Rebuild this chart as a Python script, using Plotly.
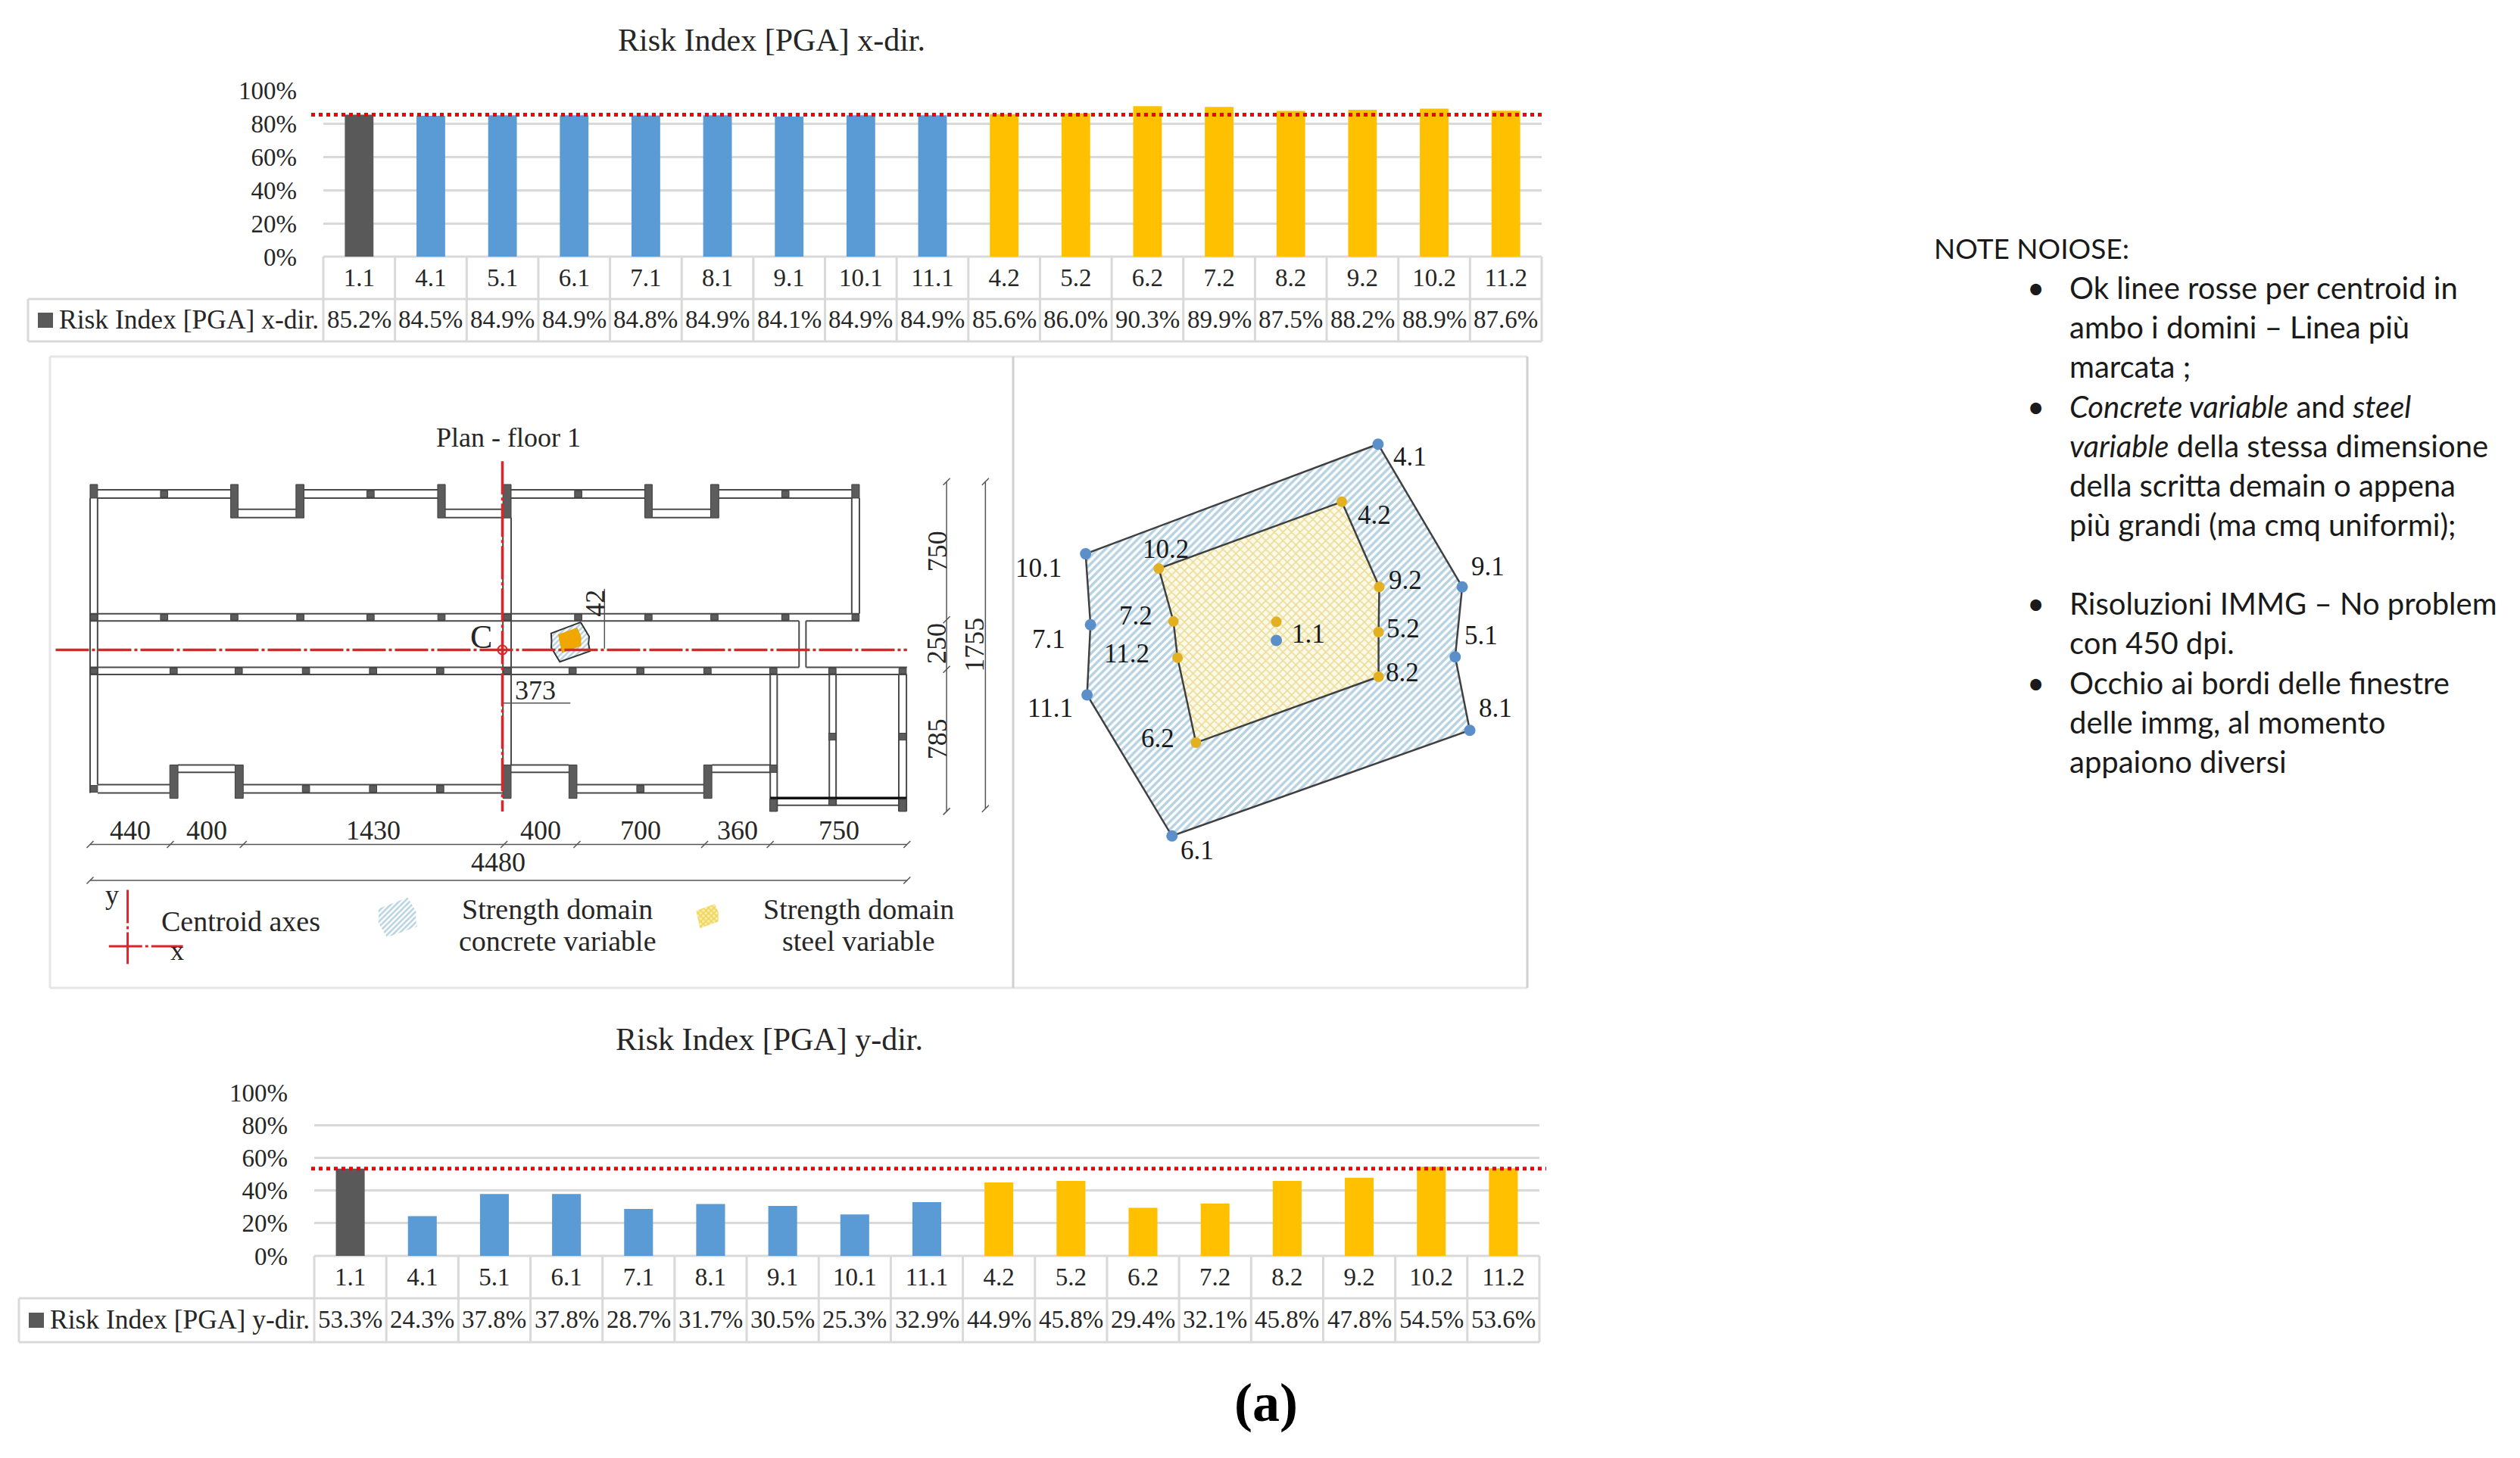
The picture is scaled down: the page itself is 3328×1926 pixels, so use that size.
import plotly.graph_objects as go

W, H = 3328, 1926
def px(v): return v / W
def py(v): return 1 - v / H

SERIF = "Liberation Serif"
SANS = "Lato"
DARK = "#262626"
GRID = "#d9d9d9"
GREY, BLUE, GOLD = "#595959", "#5B9BD5", "#FFC000"
RED = "#F0000F"
AXIS_RED = "#D9252B"
AXIS_DASH = "44px,4px,4px,4px"

# ---------- bar chart data ----------
categories = ["1.1", "4.1", "5.1", "6.1", "7.1", "8.1", "9.1", "10.1", "11.1",
              "4.2", "5.2", "6.2", "7.2", "8.2", "9.2", "10.2", "11.2"]
risk_x = [85.2, 84.5, 84.9, 84.9, 84.8, 84.9, 84.1, 84.9, 84.9,
          85.6, 86.0, 90.3, 89.9, 87.5, 88.2, 88.9, 87.6]
risk_y = [53.3, 24.3, 37.8, 37.8, 28.7, 31.7, 30.5, 25.3, 32.9,
          44.9, 45.8, 29.4, 32.1, 45.8, 47.8, 54.5, 53.6]
bar_colors = [GREY] + [BLUE] * 8 + [GOLD] * 8
y_ticks = [0, 20, 40, 60, 80, 100]

# ---------- strength domains (cm, relative to point 1.1) ----------
concrete_names = ["4.1", "9.1", "5.1", "8.1", "6.1", "11.1", "7.1", "10.1"]
concrete_dx = [56.4, 103.1, 99.2, 107.3, -57.9, -105.0, -103.1, -105.8]
concrete_dy = [106.3, 29.0, -8.9, -48.7, -105.9, -29.5, 8.5, 46.9]
concrete_lx = [42, 34, 34, 34, 33, -49, -55, -62]
concrete_ly = [-17, 27, 28, 29, -19, -18, -19, -19]
steel_names = ["4.2", "9.2", "5.2", "8.2", "6.2", "11.2", "7.2", "10.2"]
steel_dx = [36.3, 57.1, 56.7, 56.7, -44.6, -54.8, -57.1, -65.2]
steel_dy = [75.1, 29.0, 4.5, -19.7, -55.4, -9.4, 10.3, 38.9]
steel_lx = [43, 34, 32, 31, -50, -67, -50, 9]
steel_ly = [-18, 9, 5, 6, 6, 5, 7, 26]
centre_concrete = (0.0, 0.0)
centre_steel = (0.0, 10.1)

# ---------- plan (cm) : (x0, t0, x1, t1), t measured downwards from the north wall ----------
wall_h = []
for t in (33, 77):
    wall_h += [(41, t, 771, t), (1173, t, 1906, t), (2309, t, 3042, t), (3448, t, 4177, t)]
for t in (137, 181):
    wall_h += [(812, t, 1129, t), (1948, t, 2264, t), (3083, t, 3403, t)]
wall_h += [(0, 696, 4219, 696), (0, 735, 3888, 735), (3926, 735, 4219, 735),
           (0, 983, 3888, 983), (3926, 983, 4480, 983), (0, 1022, 4480, 1022)]
for t in (1612, 1656):
    wall_h += [(41, t, 437, t), (840, t, 2264, t), (2670, t, 3365, t)]
for t in (1506, 1546):
    wall_h += [(482, t, 795, t), (2309, t, 2626, t), (3410, t, 3730, t)]
wall_h += [(3730, 1722, 4477, 1722)]
wall_v = [(0, 77, 0, 1656), (41, 77, 41, 1612), (4177, 77, 4177, 696), (4219, 77, 4219, 696),
          (2264, 181, 2264, 1506), (2309, 181, 2309, 1506),
          (3888, 735, 3888, 983), (3926, 735, 3926, 983),
          (3730, 1022, 3730, 1755), (3768, 1022, 3768, 1755),
          (4054, 1022, 4054, 1722), (4091, 1022, 4091, 1722),
          (4435, 1022, 4435, 1755), (4477, 1022, 4477, 1755)]
wall_black = [(3730, 1683, 4477, 1683)]

piers = [(0, 41, 4, 77), (771, 812, 4, 183), (1129, 1173, 4, 183), (1906, 1948, 4, 183),
         (2264, 2309, 4, 183), (3042, 3083, 4, 183), (3403, 3448, 4, 183), (4177, 4219, 4, 77),
         (437, 482, 1506, 1685), (795, 840, 1506, 1685), (2264, 2309, 1506, 1685),
         (2626, 2670, 1506, 1685), (3365, 3410, 1506, 1685),
         (3727, 3767, 1506, 1546), (3727, 3767, 1690, 1755), (4051, 4091, 1336, 1373),
         (4051, 4091, 1690, 1722), (4436, 4476, 1336, 1373), (4436, 4476, 1690, 1755)]
cols_top = [406, 1538, 2677, 3813]
cols_upper = [21, 406, 791, 1153, 1538, 1927, 2288, 2677, 3062, 3424, 3813, 4198]
cols_lower = [21, 458, 815, 1184, 1552, 1920, 2288, 2646, 3018, 3386, 3747, 4071, 4456]
cols_bottom = [21, 1184, 1552, 1920, 3018]

dim_x_breaks = [0, 440, 840, 2270, 2670, 3370, 3730, 4480]
dim_x_labels = ["440", "400", "1430", "400", "700", "360", "750"]
dim_y_breaks = [-11, 729, 994, 1755]
dim_y_labels = ["750", "250", "785"]
centroid_x, centroid_t = 2261, 890
offset_x, offset_t = 373, 42

fig = go.Figure()
ann = []
shapes = []

def note(text, x, y, size=33, xref="paper", yref="paper", anchor="center", **kw):
    ann.append(dict(text=text, x=x, y=y, xref=xref, yref=yref, showarrow=False,
                    xanchor=anchor, yanchor="middle",
                    font=dict(family=kw.pop("family", SERIF), size=size, color=kw.pop("color", DARK)), **kw))

def hline(x0, x1, y, color=GRID, width=3):
    shapes.append(dict(type="line", xref="paper", yref="paper", x0=px(x0), x1=px(x1), y0=py(y), y1=py(y),
                       line=dict(color=color, width=width), layer="below"))

def vline(x, y0, y1, color=GRID, width=3):
    shapes.append(dict(type="line", xref="paper", yref="paper", x0=px(x), x1=px(x), y0=py(y0), y1=py(y1),
                       line=dict(color=color, width=width), layer="below"))

def bar_panel(idx, values, title, title_xy, left, right, y100, y0, row1, row2, head_left, red_x, label):
    suffix = "" if idx == 1 else str(idx)
    xs = list(range(len(categories)))
    fig.add_trace(go.Bar(x=xs, y=values, width=0.4, marker=dict(color=bar_colors, line=dict(width=0)),
                         xaxis="x" + suffix, yaxis="y" + suffix, hoverinfo="skip", showlegend=False))
    span = (right - left) / len(categories)
    shapes.append(dict(type="line", xref="paper", yref="y" + suffix, x0=px(red_x[0]), x1=px(red_x[1]),
                       y0=values[0], y1=values[0], layer="above",
                       line=dict(color=RED, width=5, dash="dot")))
    fig.layout["xaxis" + suffix] = dict(
        domain=[px(left), px(right)], range=[-0.5, 16.5], anchor="y" + suffix, automargin=False,
        tickmode="array", tickvals=xs, ticktext=categories, showgrid=False, zeroline=False,
        showline=False, ticks="", ticklabelstandoff=5,
        tickfont=dict(family=SERIF, size=33, color=DARK))
    fig.layout["yaxis" + suffix] = dict(
        domain=[py(y0), py(y100)], range=[0, 100], anchor="x" + suffix, automargin=False,
        tickmode="array", tickvals=y_ticks, ticktext=[f"{v}%" for v in y_ticks],
        showgrid=True, gridcolor=GRID, gridwidth=3, zeroline=False, showline=False, ticks="",
        ticklabelstandoff=34, tickfont=dict(family=SERIF, size=33, color=DARK))
    note(title, px(title_xy[0]), py(title_xy[1]), size=42)
    # data table
    hline(left, right, y0)
    hline(head_left, right, row1)
    hline(head_left, right, row2)
    vline(head_left, row1, row2)
    for i in range(len(categories) + 1):
        vline(left + i * span, y0, row2)
    for i, v in enumerate(values):
        note(f"{v:.1f}%", i, py((row1 + row2) / 2 - 1), xref="x" + suffix, size=33)
    sq = (row1 + row2) / 2
    shapes.append(dict(type="rect", xref="paper", yref="paper", x0=px(head_left + 13), x1=px(head_left + 33),
                       y0=py(sq + 10), y1=py(sq - 10), fillcolor=GREY, line=dict(width=0)))
    note(label, px(head_left + 39), py(sq - 1), size=35.5, anchor="left")

bar_panel(1, risk_x, "Risk Index [PGA] x-dir.", (1019, 53), 427, 2036, 119, 339, 395, 451, 37, (411, 2039),
          "Risk Index [PGA] x-dir.")
bar_panel(2, risk_y, "Risk Index [PGA] y-dir.", (1016, 1373), 415, 2033, 1443, 1659, 1715, 1773, 25, (411, 2042),
          "Risk Index [PGA] y-dir.")

# ---------- framed panels ----------
hline(66, 2017, 471, color="#e6e6e6")
hline(66, 2017, 1305, color="#e6e6e6")
vline(66, 471, 1305, color="#e6e6e6")
vline(1338, 471, 1305, color="#d0d0d0")
vline(2017, 471, 1305, color="#d0d0d0")

# ---------- plan axes ----------
fig.layout.xaxis3 = dict(domain=[px(66), px(1337)], range=[-220, 5058], visible=False, anchor="y3", automargin=False)
fig.layout.yaxis3 = dict(domain=[py(1305), py(471)], range=[2700, -681], visible=False, anchor="x3", automargin=False)

def seg_xy(segs):
    xs, ys = [], []
    for x0, t0, x1, t1 in segs:
        xs += [x0, x1, None]
        ys += [t0, t1, None]
    return xs, ys

def rect_xy(rects):
    xs, ys = [], []
    for x0, x1, t0, t1 in rects:
        xs += [x0, x1, x1, x0, x0, None]
        ys += [t0, t0, t1, t1, t0, None]
    return xs, ys

def plan_line(xs, ys, color="#4a4a4a", width=2, **kw):
    fig.add_trace(go.Scatter(x=xs, y=ys, mode=kw.pop("mode", "lines"), line=dict(color=color, width=width, dash=kw.pop("dash", "solid")),
                             xaxis="x3", yaxis="y3", hoverinfo="skip", showlegend=False, cliponaxis=False, **kw))

wx, wy = seg_xy(wall_h + wall_v)
plan_line(wx, wy)
bx, by = seg_xy(wall_black)
plan_line(bx, by, color="#111111", width=3.5)

all_piers = list(piers)
all_piers += [(c - 20, c + 20, 38, 73) for c in cols_top]
all_piers += [(c - 20, c + 20, 700, 731) for c in cols_upper]
all_piers += [(c - 20, c + 20, 987, 1018) for c in cols_lower]
all_piers += [(c - 20, c + 20, 1616, 1652) for c in cols_bottom]
px_, py_ = rect_xy(all_piers)
fig.add_trace(go.Scatter(x=px_, y=py_, mode="lines", fill="toself", fillcolor="#5c5c5c",
                         line=dict(color="#3f3f3f", width=1), xaxis="x3", yaxis="y3",
                         hoverinfo="skip", showlegend=False))

# dimension chains
DIM = "#555555"
TICK = dict(symbol="line-ne", size=9, line=dict(width=1.5, color=DIM), color=DIM)
plan_line(dim_x_breaks, [1932] * len(dim_x_breaks), color=DIM, width=1.5, mode="lines+markers", marker=TICK)
plan_line([0, 4480], [2124, 2124], color=DIM, width=1.5, mode="lines+markers", marker=TICK)
plan_line([4697] * 4, dim_y_breaks, color=DIM, width=1.5, mode="lines+markers", marker=TICK)
plan_line([4910, 4910], [-11, 1740], color=DIM, width=1.5, mode="lines+markers", marker=TICK)
plan_line([centroid_x + offset_x + 187, centroid_x + offset_x + 187], [563, 883], color=DIM, width=1.5)
plan_line([centroid_x, centroid_x + offset_x], [1175, 1175], color=DIM, width=1.5)

for i, lab in enumerate(dim_x_labels):
    note(lab, (dim_x_breaks[i] + dim_x_breaks[i + 1]) / 2, 1855, size=36, xref="x3", yref="y3")
note("4480", 2240, 2025, size=36, xref="x3", yref="y3")
for i, lab in enumerate(dim_y_labels):
    note(lab, 4645, [364, 857, 1369][i], size=36, xref="x3", yref="y3", textangle=-90)
note("1755", 4852, 861, size=36, xref="x3", yref="y3", textangle=-90)
note("42", 2770, 640, size=36, xref="x3", yref="y3", textangle=-90)
note("373", 2443, 1105, size=36, xref="x3", yref="y3")
note("C", 2144, 821, size=44, xref="x3", yref="y3")
note("Plan - floor 1", 2295, -247, size=36, xref="x3", yref="y3")

# domains inside the plan and in its legend
def closed(seq):
    return list(seq) + [seq[0]]

def plan_poly(xc, tc, dx, dy, line, **kw):
    xs = [xc + v for v in closed(dx)]
    ys = [tc - v for v in closed(dy)]
    fig.add_trace(go.Scatter(x=xs, y=ys, mode="lines", fill="toself", line=line, xaxis="x3", yaxis="y3",
                             hoverinfo="skip", showlegend=False, **kw))

mx, mt = centroid_x + offset_x, centroid_t - offset_t
hatch_c = dict(shape="/", fgcolor="#6FA5C4", bgcolor="#ffffff", size=5, solidity=0.5)
plan_poly(mx, mt, concrete_dx, concrete_dy, dict(color="#333333", width=2), fillpattern=hatch_c)
plan_poly(mx, mt, steel_dx, steel_dy, dict(color="#E9A400", width=1), fillcolor="#F0A800")
plan_poly(1686, 2323, concrete_dx, concrete_dy, dict(width=0), fillpattern=hatch_c)
plan_poly(3389, 2325, steel_dx, steel_dy, dict(width=0),
          fillpattern=dict(shape="x", fgcolor="#E3B51F", bgcolor="#fbeea0", size=5, solidity=0.5))

# centroid axes
plan_line([centroid_x, centroid_x], [-121, 1755], color=AXIS_RED, width=3.5, dash=AXIS_DASH)
plan_line([-189, 4480], [centroid_t, centroid_t], color=AXIS_RED, width=3.5, dash=AXIS_DASH)
fig.add_trace(go.Scatter(x=[centroid_x], y=[centroid_t], mode="markers", xaxis="x3", yaxis="y3",
                         marker=dict(symbol="circle-open", size=12, color=AXIS_RED, line=dict(width=2, color=AXIS_RED)),
                         hoverinfo="skip", showlegend=False))

# plan legend
plan_line([206, 206], [2175, 2572], color=AXIS_RED, width=3, dash=AXIS_DASH)
plan_line([103, 509], [2477, 2477], color=AXIS_RED, width=3, dash=AXIS_DASH)
note("y", 120, 2200, size=36, xref="x3", yref="y3")
note("x", 478, 2502, size=36, xref="x3", yref="y3")
note("Centroid axes", 826, 2345, size=38, xref="x3", yref="y3")
note("Strength domain", 2564, 2277, size=38, xref="x3", yref="y3")
note("concrete variable", 2564, 2447, size=38, xref="x3", yref="y3")
note("Strength domain", 4215, 2277, size=38, xref="x3", yref="y3")
note("steel variable", 4215, 2447, size=38, xref="x3", yref="y3")

# ---------- enlarged strength domain ----------
fig.layout.xaxis4 = dict(domain=[px(1338), px(2017)], range=[-146, 139.2], visible=False, anchor="y4", automargin=False)
fig.layout.yaxis4 = dict(domain=[py(1305), py(471)], range=[-188.2, 153.75], visible=False, anchor="x4", automargin=False)

fig.add_trace(go.Scatter(x=closed(concrete_dx), y=closed(concrete_dy), mode="lines", fill="toself",
                         fillpattern=dict(shape="/", fgcolor="#6FA5C4", bgcolor="#ffffff", size=7, solidity=0.5),
                         line=dict(color="#404040", width=2.5), xaxis="x4", yaxis="y4",
                         hoverinfo="skip", showlegend=False))
fig.add_trace(go.Scatter(x=closed(steel_dx), y=closed(steel_dy), mode="lines", fill="toself",
                         fillpattern=dict(shape="x", fgcolor="#DDBE3A", bgcolor="#fbf9ea", size=8, solidity=0.35),
                         line=dict(color="#404040", width=2.5), xaxis="x4", yaxis="y4",
                         hoverinfo="skip", showlegend=False))
fig.add_trace(go.Scatter(x=concrete_dx + [centre_concrete[0]], y=concrete_dy + [centre_concrete[1]],
                         mode="markers", marker=dict(color="#5B8FC9", size=15),
                         xaxis="x4", yaxis="y4", hoverinfo="skip", showlegend=False))
fig.add_trace(go.Scatter(x=steel_dx + [centre_steel[0]], y=steel_dy + [centre_steel[1]],
                         mode="markers", marker=dict(color="#E3B022", size=14),
                         xaxis="x4", yaxis="y4", hoverinfo="skip", showlegend=False))

def point_label(text, x, y, sx, sy):
    ann.append(dict(text=text, x=x, y=y, xref="x4", yref="y4", showarrow=False, xshift=sx, yshift=sy,
                    font=dict(family=SERIF, size=35, color="#1a1a1a")))

for n, x, y, sx, sy in zip(concrete_names, concrete_dx, concrete_dy, concrete_lx, concrete_ly):
    point_label(n, x, y, sx, sy)
for n, x, y, sx, sy in zip(steel_names, steel_dx, steel_dy, steel_lx, steel_ly):
    point_label(n, x, y, sx, sy)
point_label("1.1", centre_concrete[0], centre_concrete[1], 42, 8)

# ---------- caption ----------
note("<b>(a)</b>", px(1672), py(1853), size=72, color="#000000")

# ---------- side notes ----------
note_head = "NOTE NOIOSE:"
note_lines = [
    ("•", "Ok linee rosse per centroid in", 380),
    ("", "ambo i domini – Linea più", 432),
    ("", "marcata ;", 484),
    ("•", "<i>Concrete variable</i> and <i>steel</i>", 537),
    ("", "<i>variable</i> della stessa dimensione", 589),
    ("", "della scritta demain o appena", 641),
    ("", "più grandi (ma cmq uniformi);", 693),
    ("•", "Risoluzioni IMMG – No problem", 797),
    ("", "con 450 dpi.", 849),
    ("•", "Occhio ai bordi delle finestre", 902),
    ("", "delle immg, al momento", 954),
    ("", "appaiono diversi", 1006),
]
note(note_head, px(2552), py(328), size=37, anchor="left", family=SANS, color="#1a1a1a")
for bullet, line, yy in note_lines:
    if bullet:
        note(bullet, px(2688), py(yy), size=40, anchor="center", family=SANS, color="#1a1a1a")
    note(line, px(2731), py(yy), size=40, anchor="left", family=SANS, color="#1a1a1a")

fig.update_layout(width=W, height=H, autosize=False, margin=dict(l=0, r=0, t=0, b=0, pad=0),
                  paper_bgcolor="white", plot_bgcolor="rgba(0,0,0,0)", showlegend=False,
                  annotations=ann, shapes=shapes, barmode="overlay")

fig.write_html("out.html", config=dict(displayModeBar=False),
               post_script="document.body.style.margin='0';document.documentElement.style.overflow='hidden';")
